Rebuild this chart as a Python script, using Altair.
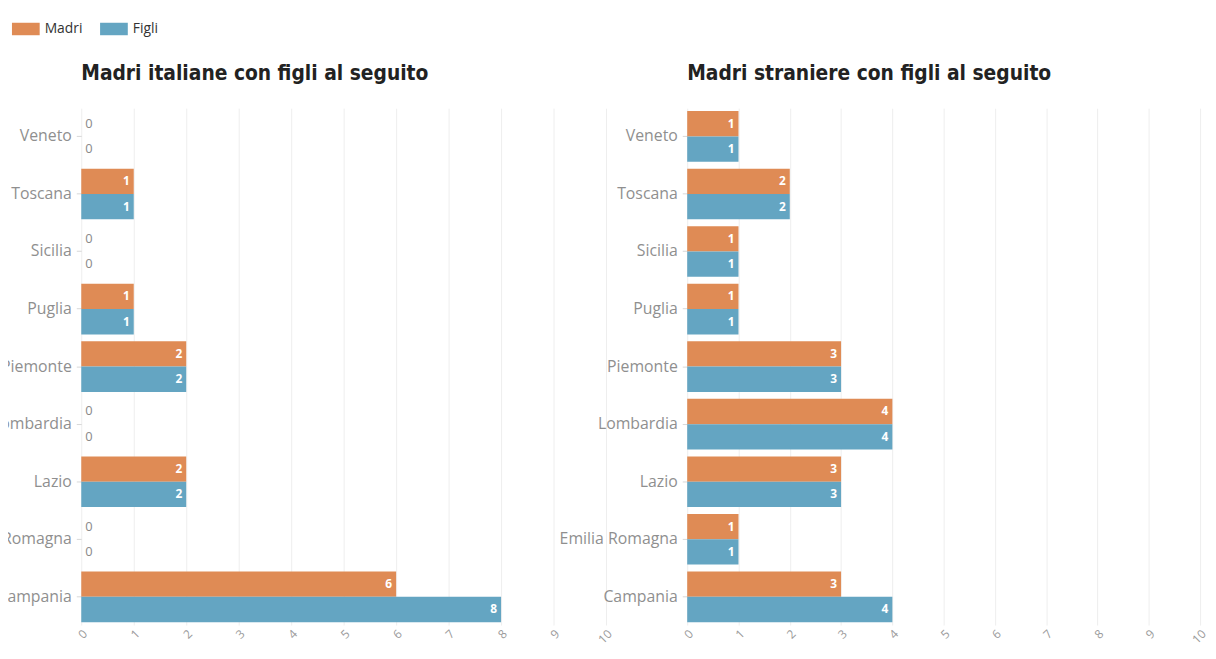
import altair as alt
import pandas as pd

regioni = ["Veneto", "Toscana", "Sicilia", "Puglia", "Piemonte",
           "Lombardia", "Lazio", "Emilia Romagna", "Campania"]
serie = ["Madri", "Figli"]
ita_madri = [0, 1, 0, 1, 2, 0, 2, 0, 6]
ita_figli = [0, 1, 0, 1, 2, 0, 2, 0, 8]
str_madri = [1, 2, 1, 1, 3, 4, 3, 1, 3]
str_figli = [1, 2, 1, 1, 3, 4, 3, 1, 4]
x_ticks = list(range(0, 11))
colori = ["#DF8B55", "#64A5C2"]

FONT = "Open Sans"
TFONT = "DejaVu Sans Condensed"


def panel(titolo, madri, figli, w):
    df = pd.DataFrame({
        "regione": regioni * 2,
        "serie": ["Madri"] * len(regioni) + ["Figli"] * len(regioni),
        "valore": madri + figli,
    })
    base = alt.Chart(df).encode(
        y=alt.Y("regione:N", sort=regioni, title=None,
                scale=alt.Scale(paddingInner=0.12, paddingOuter=0.05),
                axis=alt.Axis(labelColor="#8f8f8f", labelFontSize=16, labelFont=FONT,
                              tickColor="#d8d8d8", tickSize=5, domain=False, grid=False,
                              labelPadding=5)),
        yOffset=alt.YOffset("serie:N", sort=serie),
    )
    x_enc = alt.X("valore:Q", title=None,
                  scale=alt.Scale(domain=[0, 10], nice=False),
                  axis=alt.Axis(values=x_ticks, labelAngle=-45, labelColor="#9a9a9a",
                                labelFontSize=12, labelFont=FONT, grid=True,
                                gridColor="#eeeeee", domain=False, ticks=False,
                                labelPadding=3))
    bars = base.mark_bar().encode(
        x=x_enc,
        color=alt.Color("serie:N", sort=serie,
                        scale=alt.Scale(domain=serie, range=colori),
                        legend=alt.Legend(title=None)),
    )
    lab_in = base.transform_filter("datum.valore > 0").mark_text(
        align="right", dx=-4, color="white", fontSize=12, font=FONT, fontWeight="bold"
    ).encode(x="valore:Q", text="valore:Q")
    lab_zero = base.transform_filter("datum.valore == 0").mark_text(
        align="left", dx=4, color="#8a8a8a", fontSize=13, font=FONT
    ).encode(x="valore:Q", text="valore:Q")
    return alt.layer(bars, lab_in, lab_zero).properties(
        width=w, height=522,
        title=alt.TitleParams(titolo, anchor="start", frame="group", fontSize=21,
                              font=TFONT, fontWeight="bold", color="#222222",
                              offset=24),
    )


chart = alt.hconcat(
    panel("Madri italiane con figli al seguito", ita_madri, ita_figli, 530),
    panel("Madri straniere con figli al seguito", str_madri, str_figli, 518),
    spacing=-56,
).configure_legend(
    orient="none", legendX=-63, legendY=-87, direction="horizontal",
    labelFont=FONT, labelFontSize=14, labelOffset=12,
    labelColor="#333333", symbolType="M-2,-0.9H2V0.9H-2Z", symbolSize=196,
    symbolStrokeWidth=0, columnPadding=17, symbolOpacity=1,
).configure_view(stroke=None).properties(
    padding={"top": 11, "left": -56, "right": 0, "bottom": 0})

chart.save("out.html", embed_options={"renderer": "svg", "actions": False})
